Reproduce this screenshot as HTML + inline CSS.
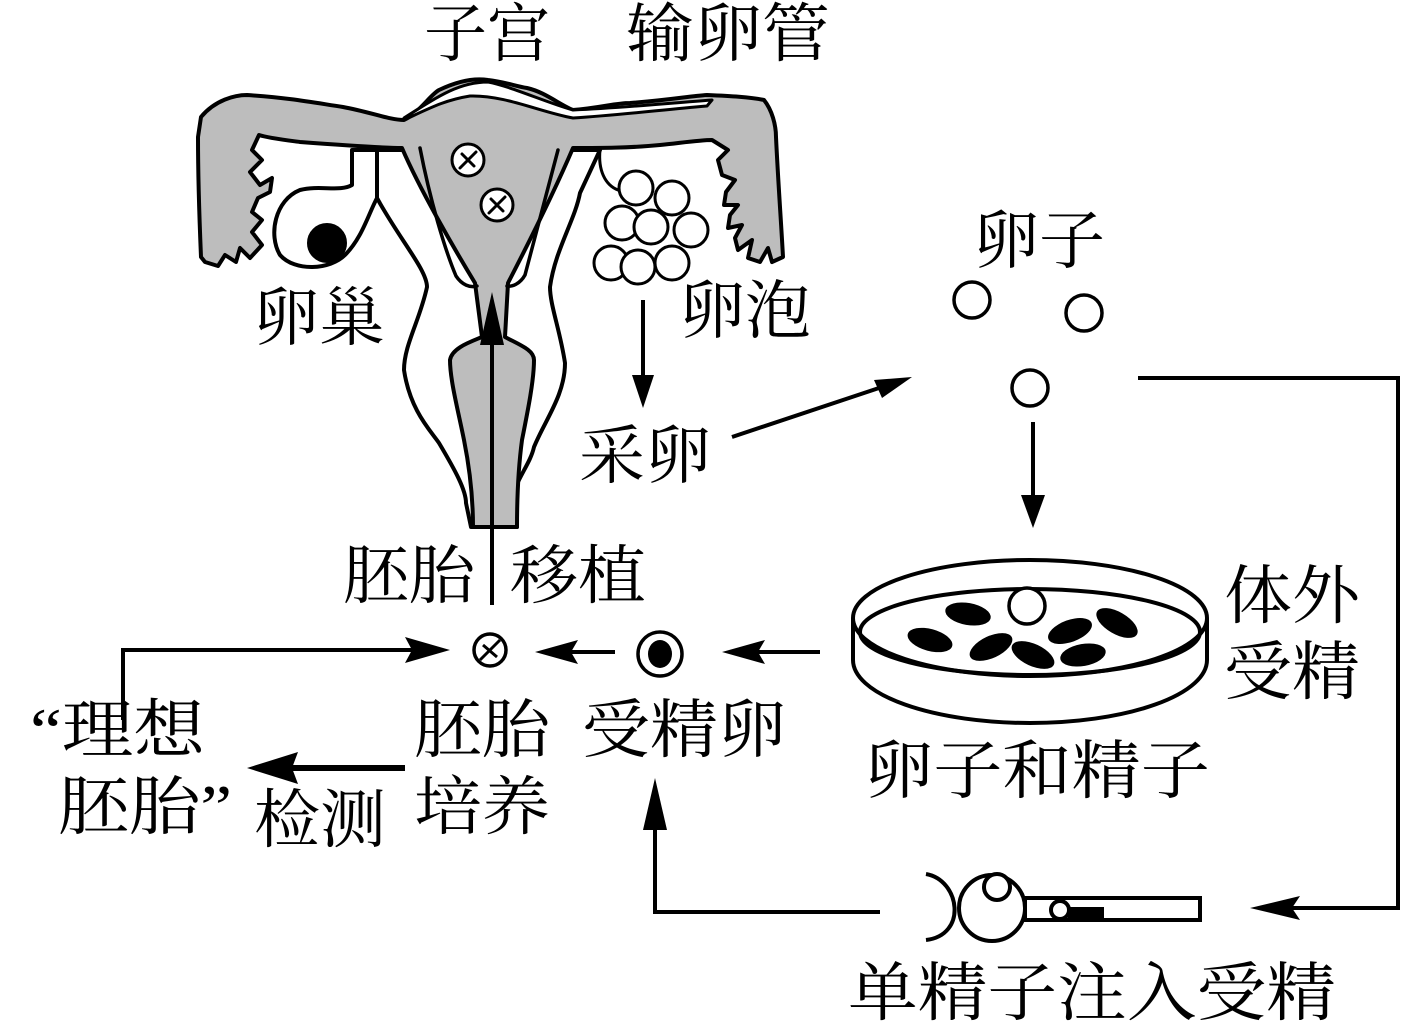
<!DOCTYPE html>
<html><head><meta charset="utf-8"><style>
html,body{margin:0;padding:0;background:#fff;}
svg{display:block;}
text{font-family:"Liberation Serif","Noto Serif CJK SC",serif;font-size:64px;fill:#000;}
</style></head><body>
<svg width="1402" height="1024" viewBox="0 0 1402 1024" xmlns="http://www.w3.org/2000/svg">
<g stroke="#000" stroke-width="4" stroke-linejoin="round" stroke-linecap="round">
<!-- white body -->
<path fill="#fff" d="M377,150 L377,198 C400,240 427,270 427,287 C420,320 404,345 404,370 C410,410 430,430 439,443 C455,470 466,490 466,503 L471,527 L517,527 L511,503 C515,480 530,465 534,447 C545,420 565,395 565,363 C560,330 550,305 550,287 C555,250 575,220 580,193 L600,150 Z"/>
<!-- ovary left -->
<path fill="#fff" d="M352,150 L352,185 C340,192 320,185 300,190 C275,200 268,235 280,255 C295,272 330,270 345,255 C362,238 368,215 377,198 L377,150 Z"/>
<circle cx="327" cy="243" r="18" fill="#000"/>
<!-- gray tubes + cavity -->
<path fill="#bdbdbd" d="M201,117 C215,100 235,95 247,95 C290,98 310,102 343,107 C370,112 390,120 404,120 C420,112 430,95 439,90 C460,80 475,78 488,80 C505,82 515,86 527,88 C545,92 560,105 573,110 C600,108 615,103 630,103 C670,100 690,96 707,95 C730,96 750,97 764,100 C772,110 776,125 776,137 C778,180 781,220 783,257 L772,262 L768,248 L760,262 L748,258 L752,240 L738,250 L735,238 L742,225 L728,228 L730,215 L738,205 L724,205 L726,192 L735,180 L722,175 L718,160 L728,150 L712,140 C700,140 680,143 660,145 C630,148 600,148 573,148 C555,190 525,250 508,283 L505,337 C520,345 534,350 534,360 C534,380 528,410 522,440 C518,470 517,500 517,527 L473,527 C473,500 470,470 464,440 C458,410 450,380 450,360 C452,348 470,342 482,337 L475,283 C455,250 420,190 402,148 C380,148 340,145 300,142 C285,140 268,138 259,135 L252,150 L262,160 L250,172 L260,185 L272,178 L270,192 L258,198 L252,212 L262,220 L252,232 L262,245 L250,258 L240,248 L236,262 L225,255 L218,266 L205,262 L201,257 C199,210 198,170 198,137 Z"/>
<!-- top white band -->
<path fill="#fff" stroke-width="3" d="M404,120 C430,108 445,100 470,96 C505,95 540,112 573,118 C620,115 660,110 707,106 L712,100 C660,104 620,108 573,110 C545,102 510,86 488,82 C460,82 440,95 404,118 Z"/>
<path fill="none" stroke-width="3.5" d="M420,148 C430,200 445,250 456,276 C462,285 470,288 477,286"/>
<path fill="none" stroke-width="3.5" d="M558,150 C545,200 532,250 525,275 C520,284 512,287 507,286"/>
<g fill="#fff" stroke-width="3">
<circle cx="636" cy="188" r="17"/><circle cx="672" cy="198" r="17"/>
<circle cx="622" cy="223" r="17"/><circle cx="651" cy="227" r="17"/><circle cx="691" cy="230" r="17"/>
<circle cx="611" cy="263" r="17"/><circle cx="638" cy="267" r="17"/><circle cx="672" cy="263" r="17"/>
</g>
<path fill="none" stroke-width="3" d="M600,150 C598,170 605,185 618,190"/>
<g fill="#fff" stroke-width="3">
<circle cx="468" cy="160" r="16"/><path d="M460,168 L476,152 M462,154 L474,166" fill="none"/>
<circle cx="497" cy="205" r="16"/><path d="M489,213 L505,197 M491,199 L503,211" fill="none"/>
</g>
</g>

<g stroke="#000" stroke-width="4" fill="none">
<line x1="492" y1="605" x2="492" y2="330"/>
<line x1="643" y1="300" x2="643" y2="380"/>
<line x1="732" y1="437" x2="885" y2="386"/>
<polyline points="1138,378 1398,378 1398,908 1285,908"/>
<line x1="1033" y1="422" x2="1033" y2="505"/>
<line x1="820" y1="652" x2="750" y2="652"/>
<line x1="615" y1="652" x2="560" y2="652"/>
<polyline points="123,720 123,650 420,650"/>
<line x1="405" y1="768" x2="285" y2="768" stroke-width="6"/>
<polyline points="880,912 655,912 655,810"/>
</g>
<g fill="#000">
<polygon points="492,292 480,345 504,345"/>
<polygon points="643,408 632,375 654,375"/>
<polygon points="912,377 874,380 882,398"/>
<polygon points="1250,908 1300,896 1292,908 1300,920"/>
<polygon points="1033,528 1021,495 1045,495"/>
<polygon points="722,652 765,640 758,652 765,664"/>
<polygon points="535,652 578,640 571,652 578,664"/>
<polygon points="450,650 405,637 412,650 405,663"/>
<polygon points="247,768 298,752 292,768 298,784"/>
<polygon points="655,778 643,830 667,830"/>
</g>

<g fill="#fff" stroke="#000" stroke-width="3.5">
<circle cx="972" cy="300" r="18"/><circle cx="1084" cy="313" r="18"/><circle cx="1030" cy="388" r="18"/>
</g>

<g stroke="#000" stroke-width="3.5" fill="#fff">
<circle cx="490" cy="650" r="16"/>
<path d="M480,660 L500,640 M483,645 L497,657" fill="none" stroke-width="3"/>
<circle cx="660" cy="654" r="22"/>
</g>
<ellipse cx="660" cy="654" rx="12" ry="14" fill="#000"/>

<g stroke="#000" stroke-width="4" fill="none">
<ellipse cx="1030" cy="618" rx="177" ry="58"/>
<ellipse cx="1030" cy="632" rx="170" ry="43"/>
<path d="M853,618 L853,660 A177,63 0 0 0 1207,660 L1207,618"/>
<circle cx="1027" cy="606" r="18" fill="#fff" stroke-width="3.5"/>
</g>
<g fill="#000">
<ellipse cx="968" cy="614" rx="23" ry="11" transform="rotate(10 968 614)"/>
<ellipse cx="930" cy="640" rx="23" ry="11" transform="rotate(15 930 640)"/>
<ellipse cx="991" cy="647" rx="23" ry="11" transform="rotate(-25 991 647)"/>
<ellipse cx="1033" cy="655" rx="23" ry="11" transform="rotate(25 1033 655)"/>
<ellipse cx="1070" cy="631" rx="23" ry="11" transform="rotate(-20 1070 631)"/>
<ellipse cx="1117" cy="623" rx="23" ry="11" transform="rotate(30 1117 623)"/>
<ellipse cx="1083" cy="655" rx="23" ry="11" transform="rotate(-10 1083 655)"/>
</g>

<g stroke="#000" stroke-width="4" fill="none">
<path d="M926,874 C960,880 968,935 926,940"/>
<circle cx="992" cy="908" r="33" fill="#fff"/>
<circle cx="997" cy="887" r="13" fill="#fff"/>
<rect x="1025" y="898" width="175" height="22" fill="#fff"/>
<circle cx="1060" cy="910" r="9" fill="#fff"/>
</g>
<rect x="1068" y="907" width="36" height="11" fill="#000"/>

<g>
<text x="424" y="56" textLength="126" lengthAdjust="spacingAndGlyphs">子宫</text>
<text x="626" y="56" textLength="204" lengthAdjust="spacingAndGlyphs">输卵管</text>
<text x="253" y="340" textLength="132" lengthAdjust="spacingAndGlyphs">卵巢</text>
<text x="679" y="333" textLength="132" lengthAdjust="spacingAndGlyphs">卵泡</text>
<text x="579" y="478" textLength="132" lengthAdjust="spacingAndGlyphs">采卵</text>
<text x="973" y="263" textLength="132" lengthAdjust="spacingAndGlyphs">卵子</text>
<text x="343" y="598" textLength="132" lengthAdjust="spacingAndGlyphs">胚胎</text>
<text x="510" y="598" textLength="136" lengthAdjust="spacingAndGlyphs">移植</text>
<text x="1224" y="618" textLength="136" lengthAdjust="spacingAndGlyphs">体外</text>
<text x="1224" y="694" textLength="136" lengthAdjust="spacingAndGlyphs">受精</text>
<text x="30" y="752" textLength="175" lengthAdjust="spacingAndGlyphs">“理想</text>
<text x="58" y="829" textLength="174" lengthAdjust="spacingAndGlyphs">胚胎”</text>
<text x="254" y="842" textLength="132" lengthAdjust="spacingAndGlyphs">检测</text>
<text x="414" y="752" textLength="136" lengthAdjust="spacingAndGlyphs">胚胎</text>
<text x="414" y="829" textLength="136" lengthAdjust="spacingAndGlyphs">培养</text>
<text x="582" y="752" textLength="204" lengthAdjust="spacingAndGlyphs">受精卵</text>
<text x="864" y="793" textLength="346" lengthAdjust="spacingAndGlyphs">卵子和精子</text>
<text x="848" y="1015" textLength="488" lengthAdjust="spacingAndGlyphs">单精子注入受精</text>
</g>
</svg>
</body></html>
